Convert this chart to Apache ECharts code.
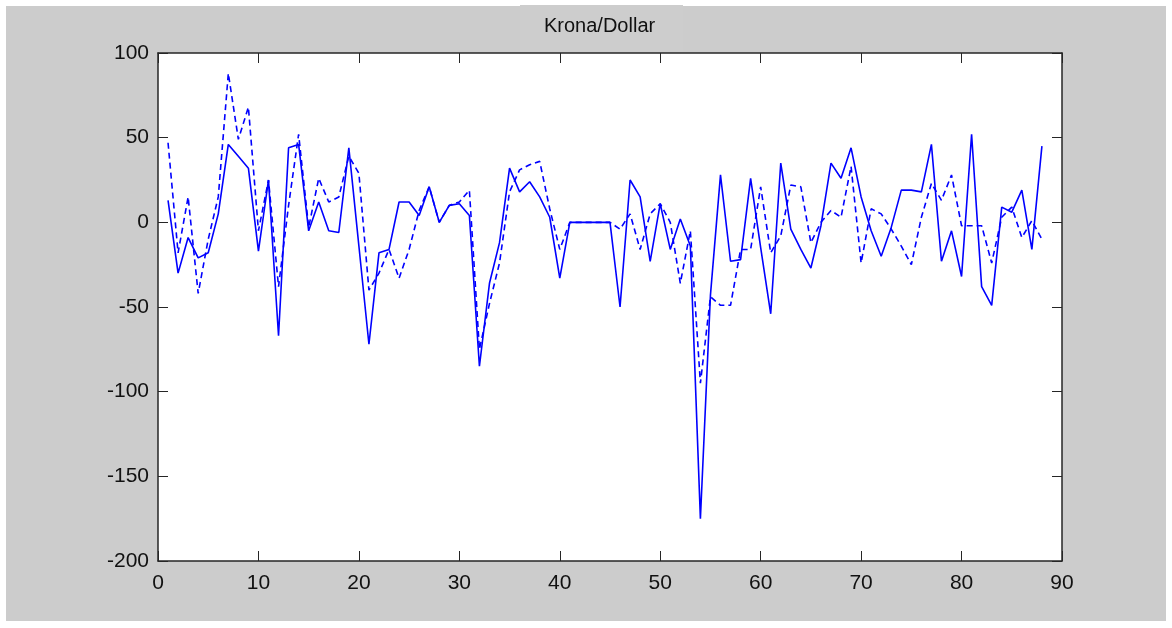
<!DOCTYPE html>
<html>
<head>
<meta charset="utf-8">
<title>Krona/Dollar</title>
<script src="https://cdn.jsdelivr.net/npm/echarts@6/dist/echarts.min.js"></script>
<style>
  html, body { margin: 0; padding: 0; background: #ffffff; }
  #chart { width: 1172px; height: 628px; }
</style>
</head>
<body>
<div id="chart"></div>
<script>
// Sample index 1..88
const indices = Array.from({ length: 88 }, (_, i) => i + 1);

// Solid series
const solidValues = [
  13, -30, -9, -21, -18, 5, 46, 39, 32, -17,
  25, -67, 44, 46, -5, 12, -5, -6, 44, -14,
  -72, -18, -16, 12, 12, 4, 21, 0, 10, 11,
  4, -85, -36, -12, 32, 18, 24, 15, 3, -33,
  0, 0, 0, 0, 0, -50, 25, 15, -23, 11,
  -16, 2, -14, -175, -43, 28, -23, -22, 26, -15,
  -54, 35, -4, -16, -27, -2, 35, 26, 44, 15,
  -5, -20, -3, 19, 19, 18, 46, -23, -5, -32,
  52, -38, -49, 9, 6, 19, -16, 45
];

// Dashed series
const dashedValues = [
  47, -18, 15, -42, -10, 15, 88, 49, 68, -5,
  25, -38, 10, 52, -3, 26, 12, 15, 39, 29,
  -40, -30, -16, -33, -16, 7, 21, 0, 10, 12,
  19, -75, -48, -24, 18, 31, 34, 36, 8, -16,
  0, 0, 0, 0, 0, -4, 5, -16, 5, 11,
  0, -36, -5, -95, -44, -49, -49, -16, -16, 21,
  -18, -8, 22, 21, -12, 0, 7, 3, 33, -24,
  8, 5, -4, -14, -25, 3, 23, 13, 28, -2,
  -2, -2, -24, 3, 9, -9, 1, -10
];

const xTicks = [0, 10, 20, 30, 40, 50, 60, 70, 80, 90];
const yTicks = [-200, -150, -100, -50, 0, 50, 100];
const titleText = 'Krona/Dollar';

const labelFont = "'Liberation Sans', Arial, sans-serif";
const axisColor = '#262626';

const pairs = vals => indices.map((x, i) => [x, vals[i]]);

const tickStyle = { show: true, inside: true, length: 10, lineStyle: { color: axisColor, width: 1 } };
const lineStyle = { show: true, onZero: false, lineStyle: { color: axisColor, width: 1.5 } };

const chart = echarts.init(document.getElementById('chart'), null, { renderer: 'canvas' });

chart.setOption({
  animation: false,
  backgroundColor: '#ffffff',
  graphic: [
    { type: 'rect', z: -10, silent: true, shape: { x: 6, y: 6, width: 1160, height: 615 }, style: { fill: '#cccccc' } },
    { type: 'rect', z: -9, silent: true, shape: { x: 520, y: 5, width: 163, height: 47 }, style: { fill: '#cdcdcd' } },
    { type: 'text', z: 10, silent: true, left: 544, top: 16,
      style: { text: titleText, font: "20px 'Liberation Sans', Arial, sans-serif", fill: '#111111' } }
  ],
  grid: {
    left: 158, top: 53, width: 904, height: 508,
    show: true, backgroundColor: '#ffffff', borderColor: axisColor, borderWidth: 0
  },
  xAxis: [
    {
      type: 'value', min: xTicks[0], max: xTicks[xTicks.length - 1], interval: 10,
      position: 'bottom',
      axisLine: lineStyle,
      axisTick: tickStyle,
      splitLine: { show: false },
      axisLabel: { margin: 12, color: '#111111', fontSize: 21, fontFamily: labelFont }
    },
    {
      type: 'value', min: xTicks[0], max: xTicks[xTicks.length - 1], interval: 10,
      position: 'top',
      axisLine: lineStyle,
      axisTick: tickStyle,
      splitLine: { show: false },
      axisLabel: { show: false }
    }
  ],
  yAxis: [
    {
      type: 'value', min: yTicks[0], max: yTicks[yTicks.length - 1], interval: 50,
      position: 'left',
      axisLine: lineStyle,
      axisTick: tickStyle,
      splitLine: { show: false },
      axisLabel: { margin: 9, color: '#111111', fontSize: 21, fontFamily: labelFont }
    },
    {
      type: 'value', min: yTicks[0], max: yTicks[yTicks.length - 1], interval: 50,
      position: 'right',
      axisLine: lineStyle,
      axisTick: tickStyle,
      splitLine: { show: false },
      axisLabel: { show: false }
    }
  ],
  series: [
    {
      name: 'solid', type: 'line', xAxisIndex: 0, yAxisIndex: 0,
      data: pairs(solidValues), showSymbol: false, symbol: 'none',
      lineStyle: { color: '#0000ff', width: 1.6, type: 'solid' }
    },
    {
      name: 'dashed', type: 'line', xAxisIndex: 0, yAxisIndex: 0,
      data: pairs(dashedValues), showSymbol: false, symbol: 'none',
      lineStyle: { color: '#0000ff', width: 1.6, type: [6, 4] }
    }
  ]
});
</script>
</body>
</html>
